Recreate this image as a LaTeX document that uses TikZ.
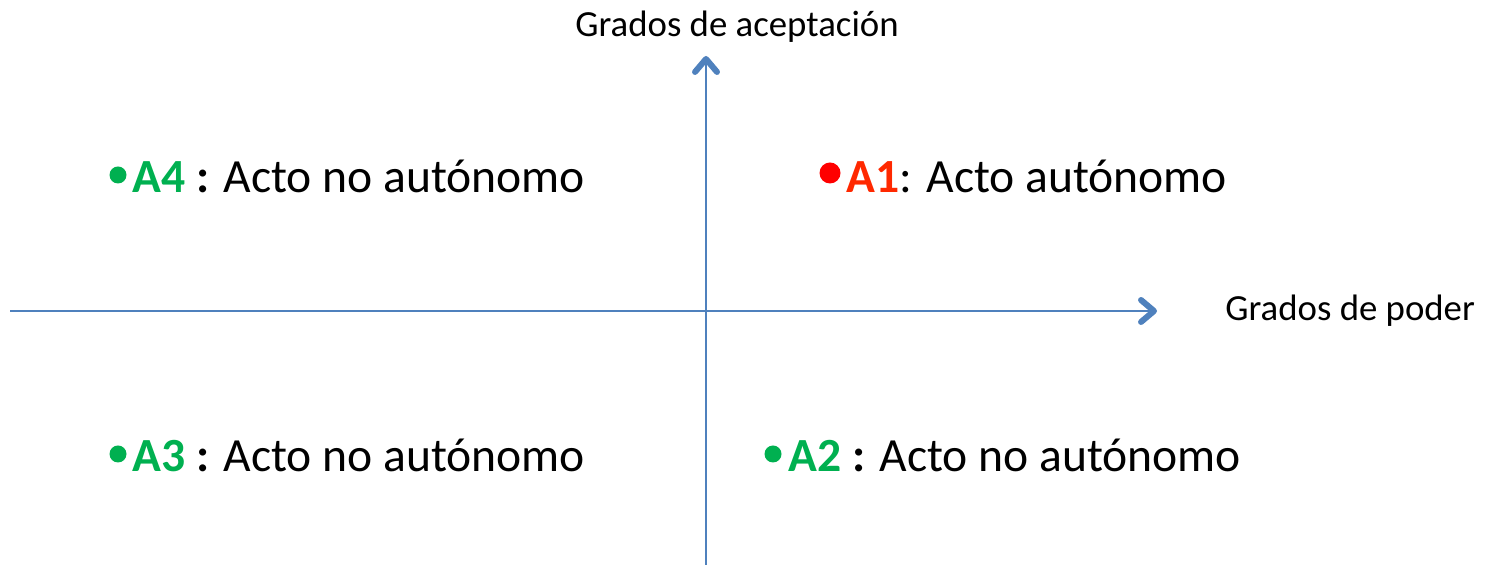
\documentclass[tikz,border=0pt]{standalone}
\usepackage{fontspec}
\setmainfont{Carlito}
\usetikzlibrary{arrows.meta}
\definecolor{axisblue}{RGB}{79,129,189}
\definecolor{okgreen}{RGB}{0,176,80}
\definecolor{dotred}{RGB}{255,0,0}
\definecolor{textred}{RGB}{255,40,0}
\tikzset{
  axis/.style={draw=axisblue, line width=1pt,
    -{Straight Barb[length=6.5pt,width=11pt,line width=3pt,round]}},
  axislabel/.style={anchor=base west, inner sep=0pt, font=\fontsize{18.4pt}{22pt}\selectfont},
  item/.style={anchor=base west, inner sep=0pt, font=\fontsize{23.8pt}{28pt}\selectfont},
  bulletdot/.style={circle, inner sep=0pt, minimum size=#1},
}
\begin{document}
\begin{tikzpicture}[x=0.5pt,y=-0.5pt]
\useasboundingbox (0,0) rectangle (1489,565);
% axes
\coordinate (xstart) at (10,311);
\coordinate (xend) at (1157,311);
\coordinate (ystart) at (706,565);
\coordinate (yend) at (706,56);
\draw[axis] (xstart) -- (xend);
\draw[axis] (ystart) -- (yend);
% axis labels
\node[axislabel] (ylab) at (575,37) {Grados de aceptación};
\node[axislabel] (xlab) at (1225,321) {Grados de poder};
% A4
\node[bulletdot=8.5pt, fill=okgreen] (b4) at (118,175) {};
\node[item] (a4) at (132,193) {\textbf{\color{okgreen}A4} \textbf{:} Acto no autónomo};
% A1
\node[bulletdot=10.5pt, fill=dotred] (b1) at (830,173) {};
\node[item] (a1) at (846,193) {\textbf{\color{textred}A1}: Acto autónomo};
% A3
\node[bulletdot=8.5pt, fill=okgreen] (b3) at (118,454) {};
\node[item] (a3) at (132,472) {\textbf{\color{okgreen}A3} \textbf{:} Acto no autónomo};
% A2
\node[bulletdot=8.5pt, fill=okgreen] (b2) at (773,454) {};
\node[item] (a2) at (788,472) {\textbf{\color{okgreen}A2} \textbf{:} Acto no autónomo};
\end{tikzpicture}
\end{document}
